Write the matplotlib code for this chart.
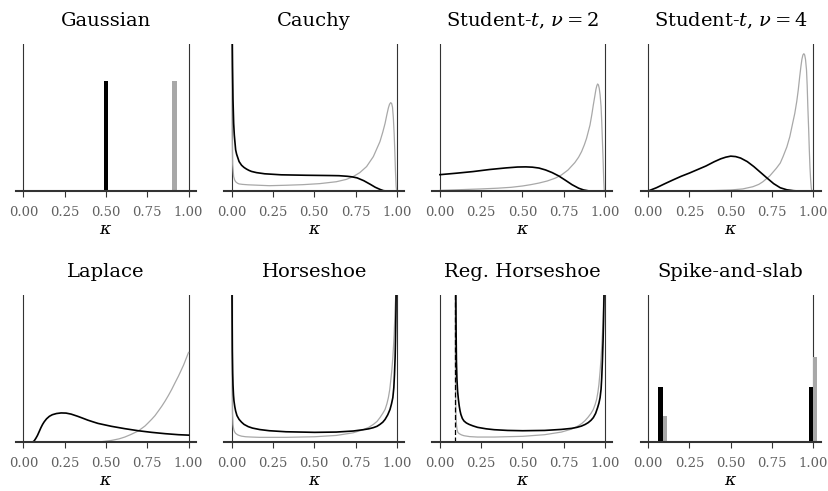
import matplotlib
matplotlib.use("Agg")
import matplotlib.pyplot as plt

plt.rcParams['font.family'] = ['DejaVu Serif']
plt.rcParams['mathtext.fontset'] = 'dejavuserif'

BLACK = '#000000'
GRAY = '#a8a8a8'

titles = ['Gaussian', 'Cauchy', r'Student-$t$, $\nu = 2$', r'Student-$t$, $\nu = 4$',
          'Laplace', 'Horseshoe', 'Reg. Horseshoe', 'Spike-and-slab']
tick_values = [0.0, 0.25, 0.5, 0.75, 1.0]
tick_labels = ['0.00', '0.25', '0.50', '0.75', '1.00']

# Gaussian: point masses (bars)
gauss_k_black = [0.50]
gauss_h_black = [0.748]
gauss_k_gray = [0.915]
gauss_h_gray = [0.748]

# Cauchy
cauchy_k_black = [0.0, 0.002, 0.005, 0.008, 0.012, 0.016, 0.024, 0.03, 0.045, 0.06, 0.075,
                  0.09, 0.105, 0.12, 0.15, 0.2, 0.3, 0.45, 0.6, 0.65, 0.7, 0.73, 0.76,
                  0.8, 0.84, 0.87, 0.9, 0.92, 0.94, 1.0]
cauchy_h_black = [1.5, 1.2, 0.85, 0.62, 0.46, 0.38, 0.28, 0.25, 0.20, 0.175, 0.16,
                  0.149, 0.14, 0.133, 0.125, 0.117, 0.11, 0.107, 0.105, 0.104, 0.100, 0.096, 0.089,
                  0.070, 0.045, 0.025, 0.010, 0.002, 0.0, 0.0]
cauchy_k_gray = [0.0, 0.001, 0.003, 0.006, 0.012, 0.018, 0.024, 0.035, 0.045, 0.065, 0.1,
                 0.228, 0.329, 0.431, 0.533, 0.634, 0.695, 0.736, 0.776, 0.817, 0.858,
                 0.898, 0.915, 0.929, 0.94, 0.949, 0.956, 0.963, 0.969, 0.974, 0.979,
                 0.984, 0.988, 0.992, 0.996, 0.999, 1.0]
cauchy_h_gray = [1.5, 1.2, 0.40, 0.18, 0.098, 0.075, 0.063, 0.053, 0.048, 0.045, 0.042,
                 0.036, 0.039, 0.043, 0.050, 0.063, 0.079, 0.098, 0.125, 0.166, 0.234,
                 0.336, 0.40, 0.46, 0.52, 0.565, 0.59, 0.601, 0.595, 0.57, 0.50,
                 0.39, 0.27, 0.13, 0.03, 0.0, 0.0]

# Student-t, nu = 2
st2_k_black = [0.0, 0.1, 0.2, 0.3, 0.4, 0.47, 0.52, 0.56, 0.6, 0.64, 0.68, 0.72, 0.76,
               0.8, 0.84, 0.87, 0.9, 0.92, 1.0]
st2_h_black = [0.111, 0.121, 0.132, 0.146, 0.157, 0.163, 0.164, 0.162, 0.156, 0.143, 0.125,
               0.102, 0.073, 0.043, 0.019, 0.007, 0.001, 0.0, 0.0]
st2_k_gray = [0.0, 0.126, 0.248, 0.35, 0.431, 0.5, 0.55, 0.6, 0.65, 0.7, 0.736, 0.776,
              0.817, 0.84, 0.858, 0.875, 0.888, 0.9, 0.909, 0.92, 0.929, 0.938, 0.945,
              0.95, 0.955, 0.96, 0.965, 0.97, 0.976, 0.98, 0.984, 0.988, 0.992, 0.995,
              0.997, 1.0]
st2_h_gray = [0.004, 0.009, 0.014, 0.019, 0.025, 0.034, 0.043, 0.054, 0.068, 0.088, 0.109,
              0.143, 0.193, 0.23, 0.268, 0.315, 0.358, 0.41, 0.449, 0.52, 0.585, 0.645,
              0.692, 0.715, 0.728, 0.722, 0.698, 0.655, 0.574, 0.47, 0.347, 0.22, 0.075,
              0.01, 0.0, 0.0]

# Student-t, nu = 4
st4_k_black = [0.0, 0.05, 0.1, 0.15, 0.2, 0.25, 0.3, 0.35, 0.4, 0.44, 0.47, 0.5, 0.53,
               0.56, 0.6, 0.64, 0.68, 0.72, 0.76, 0.8, 0.84, 0.88, 0.91, 1.0]
st4_h_black = [0.0, 0.022, 0.049, 0.075, 0.100, 0.122, 0.146, 0.170, 0.199, 0.219, 0.230,
               0.237, 0.234, 0.224, 0.200, 0.166, 0.127, 0.088, 0.050, 0.022, 0.008, 0.002,
               0.0, 0.0]
st4_k_gray = [0.0, 0.25, 0.4, 0.502, 0.573, 0.634, 0.67, 0.695, 0.736, 0.776, 0.8, 0.817,
              0.84, 0.858, 0.875, 0.888, 0.9, 0.909, 0.918, 0.925, 0.931, 0.937, 0.943,
              0.948, 0.953, 0.959, 0.963, 0.967, 0.972, 0.976, 0.98, 0.984, 0.988, 0.991,
              1.0]
st4_h_gray = [0.0, 0.001, 0.003, 0.007, 0.014, 0.029, 0.045, 0.063, 0.102, 0.154, 0.19,
              0.234, 0.30, 0.37, 0.46, 0.528, 0.61, 0.687, 0.78, 0.846, 0.895, 0.925,
              0.934, 0.925, 0.895, 0.823, 0.72, 0.574, 0.42, 0.279, 0.16, 0.075, 0.02,
              0.0, 0.0]

# Laplace
lap_k_black = [0.0, 0.049, 0.058, 0.065, 0.075, 0.085, 0.095, 0.106, 0.116, 0.126, 0.14,
               0.157, 0.175, 0.2, 0.228, 0.258, 0.289, 0.329, 0.36, 0.39, 0.42, 0.451,
               0.5, 0.533, 0.614, 0.695, 0.776, 0.858, 0.939, 1.0]
lap_h_black = [0.0, 0.0, 0.002, 0.008, 0.025, 0.045, 0.070, 0.098, 0.120, 0.138, 0.158,
               0.175, 0.186, 0.194, 0.198, 0.197, 0.190, 0.175, 0.162, 0.149, 0.138, 0.127,
               0.115, 0.107, 0.091, 0.077, 0.066, 0.057, 0.050, 0.047]
lap_k_gray = [0.0, 0.42, 0.47, 0.533, 0.58, 0.614, 0.65, 0.695, 0.736, 0.755, 0.776,
              0.797, 0.817, 0.838, 0.858, 0.878, 0.898, 0.918, 0.939, 0.97, 1.0]
lap_h_gray = [0.0, 0.0, 0.002, 0.011, 0.022, 0.034, 0.051, 0.075, 0.109, 0.130, 0.154,
              0.180, 0.211, 0.244, 0.279, 0.317, 0.358, 0.403, 0.449, 0.524, 0.610]

# Horseshoe
hs_k_black = [0.0, 0.002, 0.004, 0.006, 0.008, 0.011, 0.014, 0.019, 0.024, 0.032, 0.045,
              0.06, 0.075, 0.1, 0.126, 0.17, 0.228, 0.329, 0.502, 0.634, 0.736, 0.797,
              0.83, 0.858, 0.88, 0.898, 0.915, 0.929, 0.945, 0.959, 0.968, 0.976, 0.982,
              0.986, 0.99, 0.992, 0.995, 0.997, 1.0]
hs_h_black = [1.5, 1.0, 0.62, 0.47, 0.39, 0.32, 0.279, 0.24, 0.211, 0.18, 0.154,
              0.135, 0.12, 0.105, 0.095, 0.085, 0.077, 0.070, 0.066, 0.068, 0.075, 0.084,
              0.090, 0.098, 0.107, 0.120, 0.135, 0.154, 0.185, 0.222, 0.26, 0.302, 0.37,
              0.46, 0.58, 0.687, 0.9, 1.2, 1.5]
hs_k_gray = [0.0, 0.001, 0.002, 0.003, 0.005, 0.008, 0.011, 0.014, 0.019, 0.024, 0.035,
             0.045, 0.06, 0.085, 0.12, 0.167, 0.329, 0.502, 0.634, 0.736, 0.797, 0.83,
             0.858, 0.88, 0.898, 0.915, 0.929, 0.94, 0.949, 0.957, 0.963, 0.97, 0.976,
             0.98, 0.984, 0.987, 0.99, 0.994, 0.997, 1.0]
hs_h_gray = [1.5, 1.1, 0.6, 0.38, 0.20, 0.12, 0.095, 0.079, 0.067, 0.059, 0.050,
             0.045, 0.040, 0.036, 0.034, 0.032, 0.032, 0.036, 0.045, 0.063, 0.084, 0.100,
             0.120, 0.140, 0.166, 0.195, 0.222, 0.26, 0.302, 0.355, 0.415, 0.49, 0.574,
             0.65, 0.732, 0.82, 0.914, 1.0, 1.3, 1.5]

# Regularized horseshoe
rhs_cut = 0.089
rhs_k_black = [0.094, 0.096, 0.098, 0.100, 0.103, 0.107, 0.112, 0.117, 0.122, 0.127, 0.136,
               0.146, 0.16, 0.177, 0.2, 0.228, 0.28, 0.329, 0.41, 0.502, 0.634, 0.736,
               0.797, 0.83, 0.858, 0.88, 0.898, 0.915, 0.929, 0.943, 0.955, 0.963, 0.97,
               0.976, 0.98, 0.984, 0.988, 0.991, 0.994, 0.998, 1.0]
rhs_h_black = [1.5, 1.1, 0.75, 0.55, 0.43, 0.347, 0.29, 0.245, 0.212, 0.188, 0.160,
               0.143, 0.130, 0.120, 0.110, 0.100, 0.090, 0.084, 0.079, 0.077, 0.079, 0.086,
               0.093, 0.100, 0.109, 0.120, 0.132, 0.148, 0.166, 0.195, 0.234, 0.265, 0.302,
               0.36, 0.438, 0.55, 0.687, 0.82, 1.0, 1.3, 1.5]
rhs_k_gray = [0.092, 0.0925, 0.0935, 0.095, 0.097, 0.100, 0.104, 0.109, 0.117, 0.13, 0.146,
              0.18, 0.228, 0.329, 0.502, 0.634, 0.736, 0.797, 0.83, 0.858, 0.88, 0.898,
              0.915, 0.929, 0.94, 0.949, 0.957, 0.963, 0.97, 0.976, 0.98, 0.984, 0.987,
              0.99, 0.994, 1.0]
rhs_h_gray = [1.5, 1.1, 0.6, 0.35, 0.20, 0.12, 0.085, 0.065, 0.057, 0.049, 0.043,
              0.037, 0.034, 0.034, 0.039, 0.050, 0.068, 0.088, 0.105, 0.125, 0.147, 0.170,
              0.195, 0.222, 0.255, 0.29, 0.34, 0.392, 0.48, 0.574, 0.65, 0.732, 0.82,
              0.914, 1.1, 1.5]

# Spike-and-slab: bars
ss_k_black = [0.075, 0.987]
ss_h_black = [0.373, 0.373]
ss_k_gray = [0.100, 1.013]
ss_h_gray = [0.174, 0.577]

bar_width = 0.025

fig, axes = plt.subplots(2, 4, figsize=(8.29, 4.91), dpi=100)
fig.subplots_adjust(left=0.0193, right=0.990, bottom=0.0997, top=0.9104,
                    wspace=0.157, hspace=0.708)
axes = axes.ravel()

curves = {
    1: [(cauchy_k_gray, cauchy_h_gray, GRAY), (cauchy_k_black, cauchy_h_black, BLACK)],
    2: [(st2_k_gray, st2_h_gray, GRAY), (st2_k_black, st2_h_black, BLACK)],
    3: [(st4_k_gray, st4_h_gray, GRAY), (st4_k_black, st4_h_black, BLACK)],
    4: [(lap_k_gray, lap_h_gray, GRAY), (lap_k_black, lap_h_black, BLACK)],
    5: [(hs_k_gray, hs_h_gray, GRAY), (hs_k_black, hs_h_black, BLACK)],
    6: [(rhs_k_gray, rhs_h_gray, GRAY), (rhs_k_black, rhs_h_black, BLACK)],
}

for i, ax in enumerate(axes):
    ax.set_xlim(-0.045, 1.045)
    ax.set_ylim(0, 1)
    for s in ['left', 'right', 'top']:
        ax.spines[s].set_visible(False)
    ax.spines['bottom'].set_linewidth(1.5)
    ax.spines['bottom'].set_color('#333333')
    ax.spines['bottom'].set_zorder(5)
    ax.axvline(0, color='#333333', lw=0.8, zorder=1)
    ax.axvline(1, color='#333333', lw=0.8, zorder=1)
    ax.set_yticks([])
    ax.set_xticks(tick_values)
    ax.set_xticklabels(tick_labels)
    ax.tick_params(axis='x', direction='out', length=4.5, width=0.8, color='#333333',
                   labelcolor='#606060', labelsize=9.5, pad=6)
    ax.set_title(titles[i], fontsize=14, pad=13)
    ax.set_xlabel(r'$\kappa$', fontsize=12.5, labelpad=1.5)
    if i in curves:
        for k, h, c in curves[i]:
            lw = 1.2 if c == BLACK else 0.9
            ax.plot(k, h, color=c, lw=lw, zorder=3, solid_joinstyle='round')

axes[0].bar(gauss_k_black, gauss_h_black, width=bar_width, color=BLACK, zorder=3)
axes[0].bar(gauss_k_gray, gauss_h_gray, width=bar_width, color=GRAY, zorder=3)
axes[6].axvline(rhs_cut, color=BLACK, lw=0.9, ls=(0, (4, 2)), zorder=4)
axes[7].bar(ss_k_black, ss_h_black, width=bar_width, color=BLACK, zorder=3)
axes[7].bar(ss_k_gray, ss_h_gray, width=bar_width, color=GRAY, zorder=3)

fig.savefig('out.png', dpi=100)
